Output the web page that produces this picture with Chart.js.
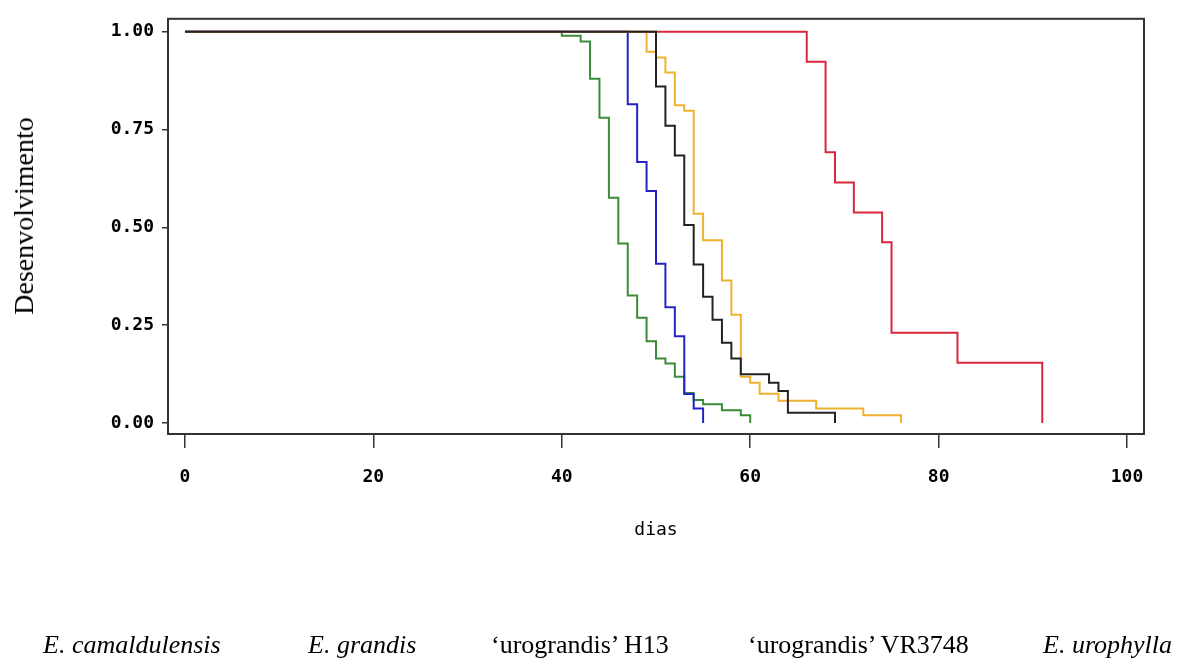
<!DOCTYPE html>
<html>
<head>
<meta charset="utf-8">
<script src="https://cdn.jsdelivr.net/npm/chart.js@4"></script>
<style>
  html, body { margin: 0; padding: 0; background: #fff; overflow: hidden; }
  #wrap { position: relative; width: 1182px; height: 659px; }
  #chart { position: absolute; left: 0; top: 0; }
  .ytitle { position: absolute; left: 24px; top: 216px; font: 28px 'Liberation Serif', serif; color: #000;
    white-space: nowrap; transform: translate(-50%, -50%) rotate(-90deg); }
  .leg { position: absolute; top: 632px; font: 26px/1 'Liberation Serif', serif; color: #000; white-space: nowrap; }
  .leg i { font-style: italic; }
</style>
</head>
<body>
<div id="wrap">
  <canvas id="chart" width="1182" height="659"></canvas>
  <div class="ytitle">Desenvolvimento</div>
  <div class="leg" style="left:43px"><i>E. camaldulensis</i></div>
  <div class="leg" style="left:308px"><i>E. grandis</i></div>
  <div class="leg" style="left:491px">‘urograndis’ H13</div>
  <div class="leg" style="left:748px">‘urograndis’ VR3748</div>
  <div class="leg" style="left:1043px"><i>E. urophylla</i></div>
</div>
<script>
// step curves: day of each drop and the value after it
const greenDays = [0, 40, 42, 43, 44, 45, 46, 47, 48, 49, 50, 51, 52, 53, 54, 55, 57, 59, 60];
const greenVals = [1, 0.99, 0.975, 0.88, 0.78, 0.576, 0.459, 0.326, 0.269, 0.209, 0.165, 0.152, 0.118, 0.077, 0.059, 0.048, 0.033, 0.02, 0];
const blueDays = [0, 47, 48, 49, 50, 51, 52, 53, 54, 55];
const blueVals = [1, 0.815, 0.667, 0.593, 0.407, 0.296, 0.222, 0.074, 0.037, 0];
const blackDays = [0, 50, 51, 52, 53, 54, 55, 56, 57, 58, 59, 62, 63, 64, 69];
const blackVals = [1, 0.86, 0.76, 0.684, 0.506, 0.405, 0.323, 0.264, 0.205, 0.165, 0.125, 0.103, 0.082, 0.026, 0];
const orangeDays = [0, 49, 50, 51, 52, 53, 54, 55, 57, 58, 59, 60, 61, 63, 67, 72, 76];
const orangeVals = [1, 0.949, 0.934, 0.896, 0.812, 0.798, 0.535, 0.467, 0.364, 0.277, 0.118, 0.103, 0.075, 0.057, 0.037, 0.02, 0];
const redDays = [0, 66, 68, 69, 71, 74, 75, 82, 91];
const redVals = [1, 0.923, 0.692, 0.615, 0.538, 0.462, 0.231, 0.154, 0];

const xTicks = [0, 20, 40, 60, 80, 100];
const yTicks = [0, 0.25, 0.5, 0.75, 1];

function pts(days, vals) {
  return days.map((d, i) => ({ x: d, y: vals[i] }));
}

function curve(label, days, vals, color) {
  return { label, data: pts(days, vals), borderColor: color, borderWidth: 2, stepped: 'before',
    pointRadius: 0, fill: false };
}

const frame = {
  id: 'frame',
  afterDatasetsDraw(chart) {
    const a = chart.chartArea, ctx = chart.ctx;
    ctx.save();
    ctx.strokeStyle = '#333';
    ctx.lineWidth = 2;
    ctx.strokeRect(a.left, a.top, a.right - a.left, a.bottom - a.top);
    ctx.restore();
  }
};

const tickFont = { family: "'DejaVu Sans Mono', monospace", size: 18, weight: 'bold' };

// first dataset is drawn on top, so black goes first
new Chart(document.getElementById('chart'), {
  type: 'line',
  data: {
    datasets: [
      curve("'urograndis' H13", blackDays, blackVals, '#222222'),
      curve("'urograndis' VR3748", orangeDays, orangeVals, '#eeb130'),
      curve('E. grandis', blueDays, blueVals, '#2424c4'),
      curve('E. camaldulensis', greenDays, greenVals, '#3a8c3a'),
      curve('E. urophylla', redDays, redVals, '#d8263c')
    ]
  },
  options: {
    responsive: false,
    animation: false,
    layout: { padding: { left: 0, top: 17, right: 38, bottom: 115 } },
    plugins: { legend: { display: false }, tooltip: { enabled: false } },
    scales: {
      x: {
        type: 'linear', min: -1.8, max: 101.8,
        afterBuildTicks: s => { s.ticks = xTicks.map(v => ({ value: v })); },
        afterFit: s => { s.height = 110; },
        border: { display: false },
        grid: { drawOnChartArea: false, drawTicks: true, tickLength: 14, color: '#333', lineWidth: 1.5 },
        ticks: { color: '#000', font: tickFont, padding: 19, maxRotation: 0 },
        title: { display: true, text: 'dias', color: '#000',
          font: { family: "'DejaVu Sans Mono', monospace", size: 18 }, padding: { top: 0, bottom: 3 } }
      },
      y: {
        // max chosen so that 1.00 falls on a whole pixel row
        type: 'linear', min: -0.028, max: 1.03308,
        afterBuildTicks: s => { s.ticks = yTicks.map(v => ({ value: v })); },
        afterFit: s => { s.width = 168; },
        border: { display: false },
        grid: { drawOnChartArea: false, drawTicks: true, tickLength: 6, color: '#333', lineWidth: 1.5 },
        ticks: { color: '#000', font: tickFont, padding: 8, callback: v => v.toFixed(2) }
      }
    }
  },
  plugins: [frame]
});
</script>
</body>
</html>
